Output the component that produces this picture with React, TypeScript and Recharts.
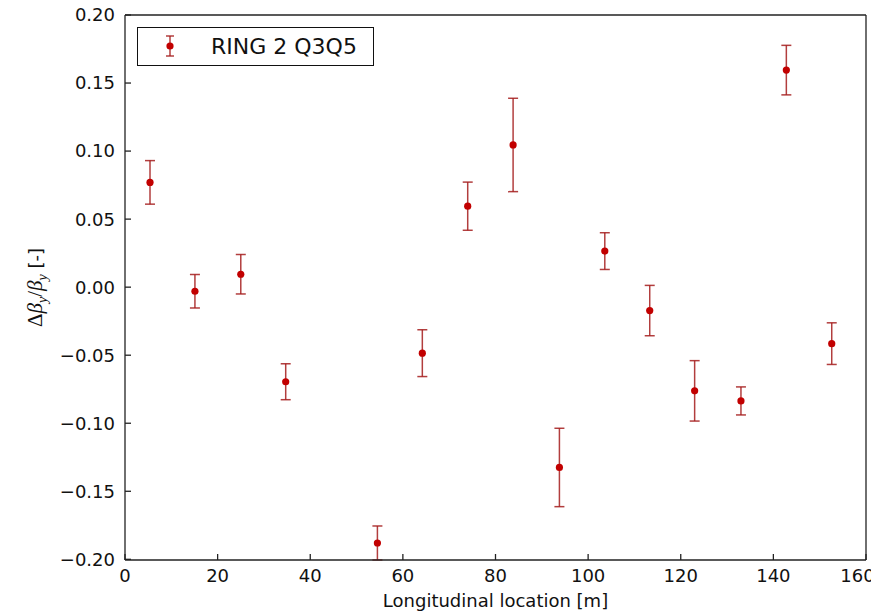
import React from 'react';
import {
  ScatterChart,
  Scatter,
  XAxis,
  YAxis,
  ErrorBar,
  Legend,
  Label
} from 'recharts';

// longitudinal position [m], relative beta beat, error
const positions = [5.4, 15.1, 25.0, 34.7, 54.5, 64.2, 74.0, 83.8, 93.8, 103.6, 113.3, 123.0, 133.0, 142.8, 152.6];
const betaBeat = [0.077, -0.003, 0.0095, -0.0695, -0.188, -0.0485, 0.0595, 0.1045, -0.1325, 0.0265, -0.0172, -0.0762, -0.0836, 0.1595, -0.0415];
const betaErr = [0.016, 0.0123, 0.0145, 0.0132, 0.0125, 0.0172, 0.0177, 0.0343, 0.0288, 0.0135, 0.0185, 0.0222, 0.0103, 0.0182, 0.0153];

const xTicks = [0, 20, 40, 60, 80, 100, 120, 140, 160];
const yTicks = [-0.2, -0.15, -0.1, -0.05, 0, 0.05, 0.1, 0.15, 0.2];

const seriesName = 'RING 2 Q3Q5';

const data = positions.map((x, i) => ({ x, y: betaBeat[i], err: betaErr[i] }));

const FONT = '"DejaVu Sans", sans-serif';
const AXIS = '#222222';
const MARKER = '#c20000';
const BAR = '#a51c1c';

const fmtY = (v: number) => v.toFixed(2).replace('-', '\u2212');

const Dot = (props: any) => {
  const { cx, cy } = props;
  return <circle cx={cx} cy={cy} r={3.6} fill={MARKER} />;
};

const YLabel = (props: any) => {
  const { viewBox } = props;
  const cx = viewBox.x + 42;
  const cy = viewBox.y + viewBox.height / 2;
  return (
    <text
      x={cx}
      y={cy}
      transform={`rotate(-90, ${cx}, ${cy})`}
      textAnchor="middle"
      fontSize={21}
      fill="#111"
      fontFamily='"Liberation Serif", serif'
    >
      <tspan>Δ</tspan>
      <tspan fontStyle="italic">β</tspan>
      <tspan fontStyle="italic" fontSize={14} dy={5}>y</tspan>
      <tspan dy={-5}>/</tspan>
      <tspan fontStyle="italic">β</tspan>
      <tspan fontStyle="italic" fontSize={14} dy={5}>y</tspan>
      <tspan dy={-5} fontFamily={FONT} fontSize={18}> [-]</tspan>
    </text>
  );
};

const XLabel = (props: any) => {
  const { viewBox } = props;
  return (
    <text
      x={viewBox.x + viewBox.width / 2}
      y={viewBox.y + 47}
      textAnchor="middle"
      fontSize={18}
      fill="#111"
      fontFamily={FONT}
    >
      Longitudinal location [m]
    </text>
  );
};

const LegendBox = () => (
  <div
    style={{
      boxSizing: 'border-box',
      width: 237,
      height: 39,
      border: '1.5px solid #111',
      background: '#fff',
      display: 'flex',
      alignItems: 'center',
      fontFamily: FONT,
      fontSize: 22,
      color: '#111'
    }}
  >
    <svg width={64} height={36} style={{ flex: 'none' }}>
      <line x1={32} x2={32} y1={7} y2={27} stroke={BAR} strokeOpacity={0.85} strokeWidth={1.5} />
      <line x1={28} x2={36} y1={7} y2={7} stroke={BAR} strokeOpacity={0.85} strokeWidth={1.5} />
      <line x1={28} x2={36} y1={27} y2={27} stroke={BAR} strokeOpacity={0.85} strokeWidth={1.5} />
      <circle cx={32} cy={17} r={3.6} fill={MARKER} />
    </svg>
    <span style={{ marginLeft: 9 }}>{seriesName}</span>
  </div>
);

export default function App() {
  return (
    <div style={{ position: 'absolute', left: 0, top: 0, background: '#fff' }}>
      <ScatterChart width={871} height={613} margin={{ top: 0, right: 0, bottom: 0, left: 0 }}>
        <XAxis
          xAxisId="bottom"
          dataKey="x"
          type="number"
          domain={[0, 160]}
          ticks={xTicks}
          height={53}
          stroke={AXIS}
          strokeWidth={1.3}
          tickSize={-6}
          tickMargin={15}
          tick={{ fill: '#111', fontSize: 18, fontFamily: FONT }}
        >
          <Label content={XLabel} />
        </XAxis>
        <XAxis
          xAxisId="top"
          orientation="top"
          dataKey="x"
          type="number"
          domain={[0, 160]}
          ticks={xTicks}
          height={15}
          stroke={AXIS}
          strokeWidth={1.3}
          tickSize={-6}
          tickFormatter={() => ''}
        />
        <YAxis
          yAxisId="left"
          dataKey="y"
          type="number"
          domain={[-0.2, 0.2]}
          ticks={yTicks}
          width={125}
          stroke={AXIS}
          strokeWidth={1.3}
          tickSize={-6}
          tickMargin={16}
          tickFormatter={fmtY}
          tick={{ fill: '#111', fontSize: 18, fontFamily: FONT }}
        >
          <Label content={YLabel} />
        </YAxis>
        <YAxis
          yAxisId="right"
          orientation="right"
          dataKey="y"
          type="number"
          domain={[-0.2, 0.2]}
          ticks={yTicks}
          width={5}
          stroke={AXIS}
          strokeWidth={1.3}
          tickSize={-6}
          tickFormatter={() => ''}
        />
        <Legend
          layout="horizontal"
          verticalAlign="middle"
          align="center"
          content={LegendBox}
          wrapperStyle={{ left: 137, top: 27, width: 237, height: 39 }}
        />
        <Scatter
          name={seriesName}
          data={data}
          xAxisId="bottom"
          yAxisId="left"
          shape={Dot}
          isAnimationActive={false}
        >
          <ErrorBar
            dataKey="err"
            direction="y"
            width={5}
            stroke={BAR}
            strokeOpacity={0.85}
            strokeWidth={1.5}
            isAnimationActive={false}
          />
        </Scatter>
      </ScatterChart>
    </div>
  );
}
